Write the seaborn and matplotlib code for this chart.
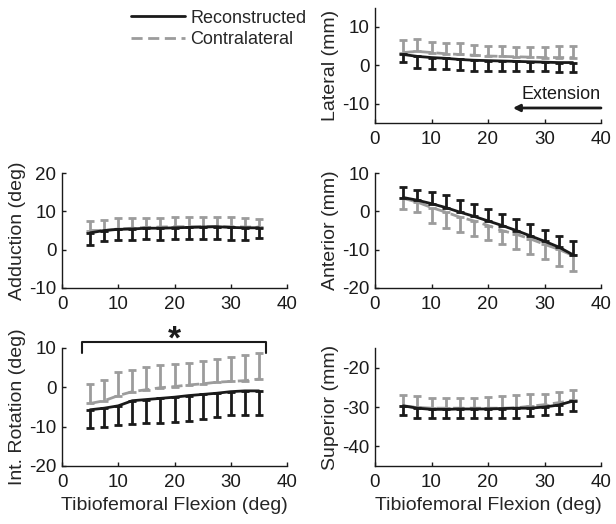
import numpy as np
import pandas as pd
import matplotlib
matplotlib.use("Agg")
import matplotlib.pyplot as plt
import seaborn as sns
from matplotlib.lines import Line2D

flexion = [5, 7.5, 10, 12.5, 15, 17.5, 20, 22.5, 25, 27.5, 30, 32.5, 35]

# Lateral (mm)
lat_rec = [2.8, 2.3, 2.0, 1.8, 1.5, 1.3, 1.2, 1.1, 1.0, 0.9, 0.8, 0.7, 0.7]
lat_rec_low = [0.9, -0.8, -0.9, -1.0, -1.3, -1.4, -1.4, -1.4, -1.4, -1.5, -1.6, -1.7, -1.8]
lat_con = [3.3, 3.6, 3.3, 3.0, 2.8, 2.6, 2.4, 2.3, 2.2, 2.1, 2.0, 2.0, 2.0]
lat_con_up = [6.5, 6.7, 6.1, 5.9, 5.7, 5.3, 4.9, 4.9, 4.8, 4.8, 4.8, 5.0, 5.1]

# Adduction (deg)
add_rec = [4.4, 5.0, 5.3, 5.4, 5.6, 5.6, 5.7, 5.8, 5.9, 6.0, 5.8, 5.7, 5.7]
add_rec_low = [1.3, 2.3, 2.4, 2.6, 2.8, 2.6, 2.7, 2.7, 2.7, 2.7, 2.6, 2.6, 3.1]
add_con = [5.0, 5.0, 5.4, 5.6, 5.8, 5.9, 6.0, 6.0, 6.0, 6.0, 6.0, 5.9, 5.9]
add_con_up = [7.5, 7.7, 8.2, 8.3, 8.3, 8.3, 8.4, 8.4, 8.4, 8.5, 8.4, 8.3, 8.1]

# Anterior (mm)
ant_rec = [3.6, 2.9, 2.0, 1.0, -0.2, -1.3, -2.5, -3.7, -5.0, -6.4, -7.8, -9.3, -11.3]
ant_rec_up = [6.3, 5.6, 5.0, 4.2, 3.0, 2.0, 0.7, -0.6, -2.0, -3.4, -4.8, -6.4, -7.7]
ant_con = [3.4, 2.4, 1.0, -0.2, -1.5, -2.5, -3.7, -5.0, -6.0, -7.2, -8.6, -9.9, -11.5]
ant_con_low = [0.5, -0.2, -3.0, -4.3, -5.4, -6.4, -7.4, -8.6, -9.8, -11.0, -12.5, -14.2, -15.6]

# Int. Rotation (deg)
rot_rec = [-5.7, -5.3, -4.7, -3.4, -3.1, -2.8, -2.5, -2.1, -1.8, -1.5, -1.1, -0.9, -0.9]
rot_rec_low = [-10.4, -10.1, -9.6, -9.2, -9.0, -9.1, -8.9, -8.5, -8.1, -7.5, -7.1, -7.1, -7.0]
rot_con = [-4.1, -3.4, -2.1, -1.1, -0.6, -0.1, 0.2, 0.6, 0.9, 1.3, 1.5, 1.7, 2.1]
rot_con_up = [0.9, 1.9, 3.8, 4.5, 5.1, 5.6, 6.0, 6.3, 6.7, 7.1, 7.7, 8.2, 8.7]

# Superior (mm)
sup_rec = [-29.7, -30.3, -30.6, -30.6, -30.5, -30.5, -30.5, -30.4, -30.3, -30.3, -30.0, -29.5, -28.5]
sup_rec_low = [-32.0, -32.7, -32.9, -32.7, -32.7, -32.9, -32.9, -32.9, -32.7, -32.4, -32.1, -31.9, -31.0]
sup_con = [-29.7, -30.1, -30.3, -30.3, -30.3, -30.3, -30.3, -30.3, -30.2, -29.8, -29.4, -28.9, -28.3]
sup_con_up = [-26.9, -27.2, -27.6, -27.6, -27.6, -27.6, -27.4, -27.2, -27.0, -26.8, -26.6, -26.2, -25.7]

BLACK = "#1a1a1a"
GRAY = "#9c9c9c"

sns.set_theme(style="white")
plt.rcParams["font.family"] = ["Liberation Sans", "DejaVu Sans"]
plt.rcParams["axes.unicode_minus"] = False
plt.rcParams["xtick.direction"] = "in"
plt.rcParams["ytick.direction"] = "in"
plt.rcParams["xtick.bottom"] = True
plt.rcParams["ytick.left"] = True

fig = plt.figure(figsize=(6.16, 5.24), dpi=100)

W = 616.0
H = 524.0
def axes_px(x0, x1, y0, y1):
    return fig.add_axes([x0 / W, 1 - y1 / H, (x1 - x0) / W, (y1 - y0) / H])

ax_lat = axes_px(375, 601, 7.5, 123)
ax_add = axes_px(62, 287, 173, 288)
ax_ant = axes_px(375, 601, 173, 288)
ax_rot = axes_px(62, 287, 348, 466)
ax_sup = axes_px(375, 601, 348, 466)


def draw(ax, rec, rec_end, con, con_end, ylim, yticks, ylabel, xlabel=False):
    x = np.array(flexion)
    rec = np.array(rec); rec_end = np.array(rec_end)
    con = np.array(con); con_end = np.array(con_end)

    def bars(mean, end, color):
        lo = np.where(end < mean, mean - end, 0)
        hi = np.where(end > mean, end - mean, 0)
        ax.errorbar(x, mean, yerr=[lo, hi], fmt="none", ecolor=color,
                    elinewidth=2, capsize=3, capthick=2)
    bars(con, con_end, GRAY)
    df_c = pd.DataFrame({"x": x, "y": con})
    sns.lineplot(data=df_c, x="x", y="y", ax=ax, color=GRAY, lw=2,
                 linestyle=(0, (4, 2)))
    bars(rec, rec_end, BLACK)
    df_r = pd.DataFrame({"x": x, "y": rec})
    sns.lineplot(data=df_r, x="x", y="y", ax=ax, color=BLACK, lw=2)
    ax.set_xlim(0, 40)
    ax.set_ylim(*ylim)
    ax.set_xticks([0, 10, 20, 30, 40])
    ax.set_yticks(yticks)
    ax.set_ylabel(ylabel, fontsize=14, labelpad=2)
    ax.set_xlabel("Tibiofemoral Flexion (deg)" if xlabel else "", fontsize=14,
                  labelpad=4)
    for s in ["top", "right"]:
        ax.spines[s].set_visible(False)
    for s in ["left", "bottom"]:
        ax.spines[s].set_color(BLACK)
        ax.spines[s].set_linewidth(1.0)
    ax.tick_params(axis="both", labelsize=13.5, length=3, width=1,
                   color=BLACK, labelcolor=BLACK, bottom=True, left=True)
    ax.tick_params(axis="x", pad=6)
    ax.tick_params(axis="y", pad=4)
    ax.set_facecolor("white")


draw(ax_lat, lat_rec, lat_rec_low, lat_con, lat_con_up, (-15, 15), [-10, 0, 10], "Lateral (mm)")
draw(ax_add, add_rec, add_rec_low, add_con, add_con_up, (-10, 20), [-10, 0, 10, 20], "Adduction (deg)")
draw(ax_ant, ant_rec, ant_rec_up, ant_con, ant_con_low, (-20, 10), [-20, -10, 0, 10], "Anterior (mm)")
draw(ax_rot, rot_rec, rot_rec_low, rot_con, rot_con_up, (-20, 10), [-20, -10, 0, 10], "Int. Rotation (deg)", xlabel=True)
draw(ax_sup, sup_rec, sup_rec_low, sup_con, sup_con_up, (-45, -15), [-40, -30, -20], "Superior (mm)", xlabel=True)

# Extension arrow
ax_lat.annotate("", xy=(24.4, -11.1), xytext=(40, -11.1),
                arrowprops=dict(arrowstyle="-|>", color=BLACK, lw=2,
                                mutation_scale=10, shrinkA=0, shrinkB=0),
                annotation_clip=False)
ax_lat.text(40, -9.9, "Extension", ha="right", va="bottom", fontsize=13, color=BLACK)

# Significance bracket
ax_rot.plot([3.5, 3.5, 36.3, 36.3], [8.8, 11.5, 11.5, 8.8], color=BLACK, lw=1.5,
            clip_on=False)
ax_rot.text(20, 8.0, "*", ha="center", va="bottom", fontsize=24,
            fontweight="bold", color=BLACK)

# Legend
handles = [Line2D([], [], color=BLACK, lw=2),
           Line2D([], [], color=GRAY, lw=2, linestyle=(0, (4, 2)))]
fig.legend(handles, ["Reconstructed", "Contralateral"], loc="upper left",
           bbox_to_anchor=(127 / W, 1 - 6 / H), frameon=False, fontsize=13,
           handlelength=3.0, handletextpad=0.3, labelspacing=0.25,
           borderpad=0.2, borderaxespad=0)

fig.savefig("out.png", dpi=100, facecolor="white")
